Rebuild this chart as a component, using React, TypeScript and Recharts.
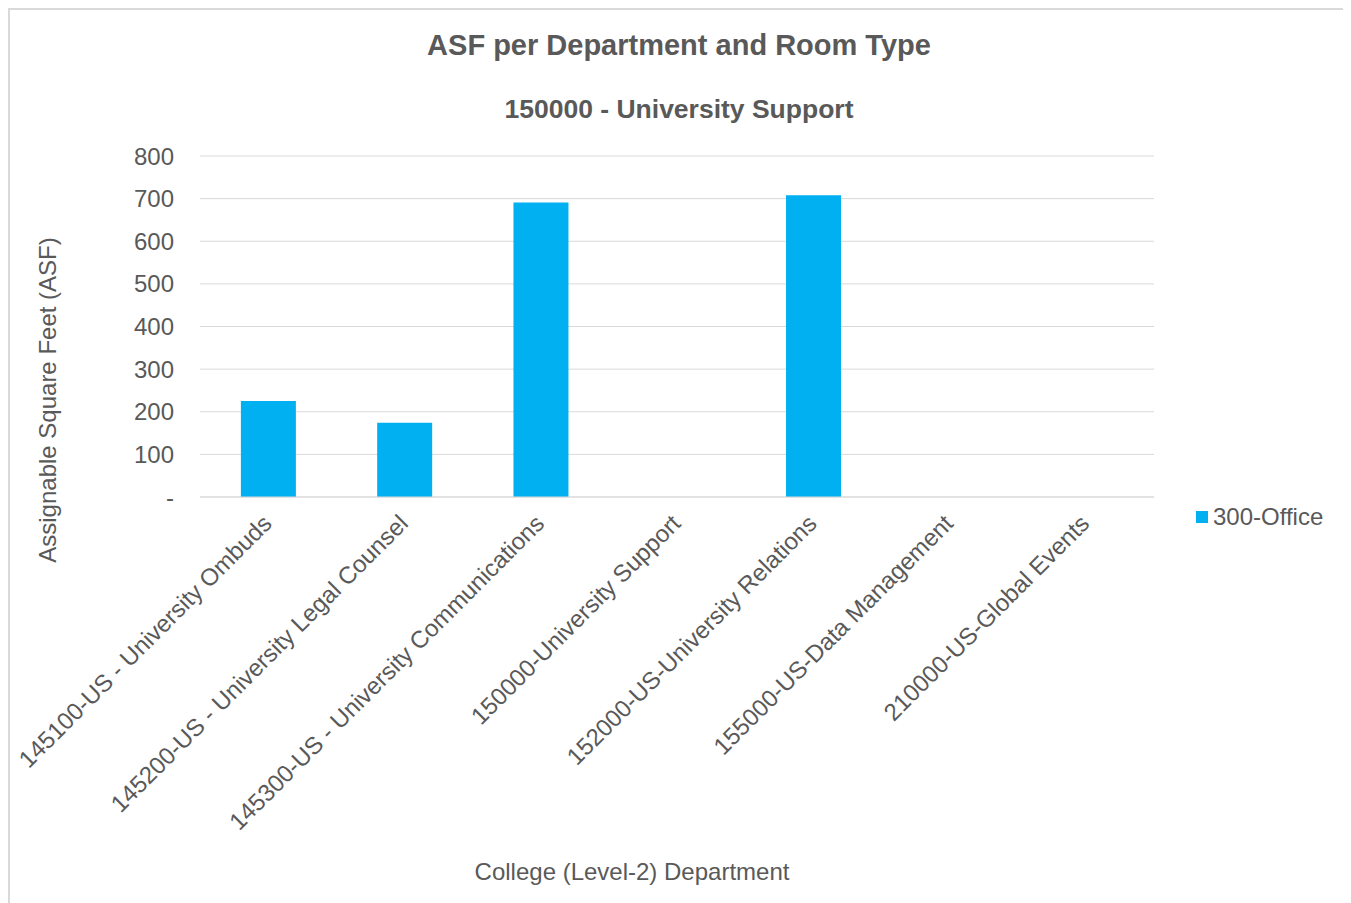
import React from "react";
import { BarChart, Bar, XAxis, YAxis, CartesianGrid } from "recharts";

const departments = [
  "145100-US - University Ombuds",
  "145200-US - University Legal Counsel",
  "145300-US - University Communications",
  "150000-University Support",
  "152000-US-University Relations",
  "155000-US-Data Management",
  "210000-US-Global Events",
];
const officeAsf = [225, 174, 691, 0, 708, 0, 0];
const yTicks = [0, 100, 200, 300, 400, 500, 600, 700, 800];

const data = departments.map((name, i) => ({ name, office: officeAsf[i] }));

const FONT = "'Liberation Sans', Arial, sans-serif";
const GREY = "#595959";
const BLUE = "#00B0F0";

const CategoryTick = (props: any) => {
  const { x, y, payload } = props;
  const ax = x + 5;
  const ay = y + 20;
  return (
    <text
      x={ax}
      y={ay}
      transform={`rotate(-45 ${ax} ${ay})`}
      textAnchor="end"
      fill={GREY}
      fontSize={24}
      fontFamily={FONT}
    >
      {payload.value}
    </text>
  );
};

export default function App() {
  return (
    <div
      style={{
        position: "relative",
        width: 1342,
        height: 895,
        borderTop: "2px solid #d9d9d9",
        borderLeft: "2px solid #d9d9d9",
        borderRight: "2px solid #d9d9d9",
        boxSizing: "border-box",
        background: "#fff",
        fontFamily: FONT,
        color: GREY,
        overflow: "hidden",
      }}
    >
      <div
        style={{
          position: "absolute",
          top: 19,
          left: 0,
          width: 1338,
          textAlign: "center",
          fontSize: 29,
          fontWeight: "bold",
        }}
      >
        ASF per Department and Room Type
      </div>
      <div
        style={{
          position: "absolute",
          top: 84,
          left: 0,
          width: 1338,
          textAlign: "center",
          fontSize: 26.5,
          fontWeight: "bold",
        }}
      >
        150000 - University Support
      </div>
      <div
        style={{
          position: "absolute",
          left: 38,
          top: 390,
          width: 0,
          height: 0,
        }}
      >
        <div
          style={{
            position: "absolute",
            transform: "translate(-50%, -50%) rotate(-90deg)",
            whiteSpace: "nowrap",
            fontSize: 24,
          }}
        >
          Assignable Square Feet (ASF)
        </div>
      </div>
      <div
        style={{
          position: "absolute",
          top: 848,
          left: 0,
          width: 1244,
          textAlign: "center",
          fontSize: 24,
        }}
      >
        College (Level-2) Department
      </div>
      <div
        style={{
          position: "absolute",
          left: 1186,
          top: 493,
          display: "flex",
          alignItems: "center",
          fontSize: 24,
        }}
      >
        <span
          style={{
            display: "inline-block",
            width: 12,
            height: 12,
            background: BLUE,
            marginRight: 5,
          }}
        />
        300-Office
      </div>
      <div style={{ position: "absolute", left: -2, top: -2 }}>
        <BarChart
          width={1342}
          height={892}
          data={data}
          margin={{ top: 148, right: 196, bottom: 0, left: 0 }}
          barCategoryGap="30%"
        >
          <CartesianGrid vertical={false} stroke="#d9d9d9" />
          <XAxis
            dataKey="name"
            interval={0}
            height={403}
            axisLine={{ stroke: "#d9d9d9" }}
            tickLine={false}
            tick={<CategoryTick />}
          />
          <YAxis
            width={192}
            domain={[0, 800]}
            ticks={yTicks}
            axisLine={false}
            tickLine={false}
            tickMargin={20}
            tickFormatter={(v: number) => (v === 0 ? "-" : String(v))}
            tick={{ fill: GREY, fontSize: 24, fontFamily: FONT }}
          />
          <Bar dataKey="office" fill={BLUE} isAnimationActive={false} />
        </BarChart>
      </div>
    </div>
  );
}
